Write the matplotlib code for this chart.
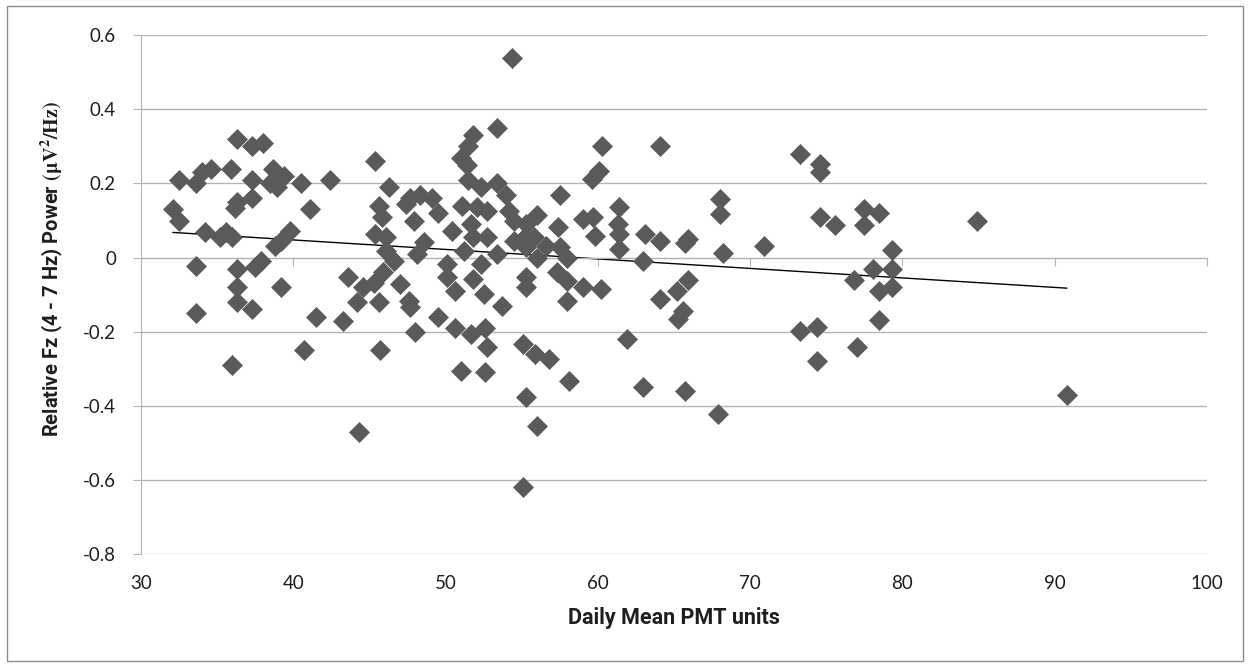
import numpy as np
import matplotlib
matplotlib.use("Agg")
import matplotlib.pyplot as plt
from matplotlib.patches import Rectangle
from matplotlib.ticker import FuncFormatter

plt.rcParams['font.family'] = ['Lato', 'DejaVu Sans']
plt.rcParams['axes.unicode_minus'] = False
plt.rcParams['mathtext.fontset'] = 'stix'

# --- data ---
pmt = [
    # 32-47
    36.3, 37.3, 38.0, 32.5, 33.6, 34.0, 34.6, 35.9, 37.3, 38.7, 39.4, 38.9, 38.5, 40.5,
    42.4, 45.4, 46.3, 32.1, 32.5, 34.2, 35.2, 35.6, 36.0, 36.3, 36.2, 37.3, 39.8, 39.2,
    38.8, 41.1, 45.6, 45.8, 45.4, 46.1, 46.1, 33.6, 36.3, 37.5, 37.9, 36.3, 39.2, 36.3,
    37.3, 33.6, 43.6, 44.6, 45.3, 47.0, 44.2, 45.6, 41.5, 43.3, 40.7, 45.7, 36.0, 44.3,
    # 46-55 upper
    53.4, 51.8, 51.5, 51.0, 51.4, 51.5, 52.3, 53.4, 54.0, 47.7, 48.3, 49.1, 47.4, 47.9,
    49.5, 51.1, 52.1, 52.7, 54.2, 54.5, 50.4, 51.7, 52.7, 51.8, 48.6, 48.1, 51.2, 54.5,
    55.2, 50.1, 52.3, 53.4, 46.6, 45.9,
    # 46-55 lower
    47.6, 47.7, 50.1, 50.6, 51.8, 52.5, 53.7, 55.3, 49.5, 48.0, 50.6, 51.7, 52.6, 52.7,
    51.0, 52.6, 55.1, 55.3,
    # 55-65 upper
    60.3, 64.1, 60.1, 59.6, 57.5, 56.0, 57.4, 59.0, 59.7, 59.8, 61.4, 61.3, 61.4, 61.4,
    63.1, 64.1, 63.0, 55.3, 55.8, 55.3, 57.5, 58.0, 56.0, 56.6,
    # 55-65 lower
    55.3, 57.3, 58.0, 59.0, 60.2, 58.0, 64.1, 65.2, 65.3, 61.9, 56.8, 58.1, 63.0, 55.9,
    56.0, 55.1, 54.35,
    # 65-91
    68.0, 68.0, 68.2, 70.9, 65.9, 65.7, 65.9, 65.6, 73.3, 74.6, 74.6, 74.6, 75.6, 77.5,
    78.5, 77.5, 79.3, 76.8, 78.1, 79.3, 78.5, 79.3, 78.5, 73.3, 74.4, 77.0, 74.4, 84.9,
    90.8, 65.7, 67.9,
]
power = [
    0.32, 0.30, 0.31, 0.21, 0.20, 0.23, 0.24, 0.24, 0.21, 0.24, 0.22, 0.19, 0.20, 0.20,
    0.21, 0.26, 0.19, 0.13, 0.10, 0.07, 0.055, 0.068, 0.055, 0.15, 0.135, 0.16, 0.073, 0.046,
    0.032, 0.13, 0.14, 0.11, 0.064, 0.055, 0.019, -0.022, -0.031, -0.026, -0.008, -0.08, -0.08, -0.12,
    -0.14, -0.15, -0.053, -0.08, -0.069, -0.071, -0.12, -0.12, -0.16, -0.17, -0.25, -0.25, -0.29, -0.47,
    0.35, 0.33, 0.30, 0.27, 0.25, 0.21, 0.19, 0.20, 0.17, 0.16, 0.17, 0.16, 0.145, 0.10,
    0.12, 0.14, 0.136, 0.127, 0.127, 0.10, 0.073, 0.091, 0.055, 0.055, 0.041, 0.01, 0.019, 0.046,
    0.055, -0.017, -0.017, 0.01, -0.008, -0.04,
    -0.116, -0.134, -0.053, -0.089, -0.058, -0.098, -0.13, -0.08, -0.16, -0.20, -0.19, -0.206, -0.19, -0.24,
    -0.305, -0.31, -0.233, -0.375,
    0.30, 0.30, 0.235, 0.213, 0.17, 0.114, 0.082, 0.105, 0.109, 0.059, 0.136, 0.091, 0.064, 0.023,
    0.064, 0.046, -0.01, 0.091, 0.055, 0.028, 0.028, 0.0, 0.0, 0.03,
    -0.053, -0.04, -0.062, -0.08, -0.085, -0.116, -0.112, -0.089, -0.166, -0.22, -0.274, -0.332, -0.35, -0.26,
    -0.454, -0.62, 0.54,
    0.159, 0.118, 0.012, 0.032, 0.05, 0.04, -0.06, -0.143, 0.28, 0.253, 0.231, 0.109, 0.089, 0.132,
    0.12, 0.089, 0.021, -0.06, -0.031, -0.031, -0.089, -0.08, -0.169, -0.199, -0.188, -0.242, -0.28, 0.10,
    -0.37, -0.361, -0.421,
]
x_ticks = [30, 40, 50, 60, 70, 80, 90, 100]
y_ticks = [-0.8, -0.6, -0.4, -0.2, 0, 0.2, 0.4, 0.6]

GRID = '#b4b4b4'
TEXT = '#1e1e1e'
LABEL_FONT = ['Roboto', 'DejaVu Sans']

fig = plt.figure(figsize=(12.5, 6.66), dpi=100)
ax = fig.add_axes([0.1128, 0.1682, 0.8526, 0.7788])

ax.set_xlim(30, 100)
ax.set_ylim(-0.8, 0.6)
ax.set_yticks(y_ticks)
ax.set_xticks(x_ticks)
ax.yaxis.grid(True, color=GRID, lw=1)
ax.set_axisbelow(True)

# linear trendline over the data range
m, b = np.polyfit(pmt, power, 1)
xl = np.array([min(pmt), max(pmt)])
ax.plot(xl, m * xl + b, color='black', lw=1, zorder=2)

ax.plot(pmt, power, linestyle='none', marker='D', ms=10.5,
        color='#5a5a5a', mec='#5a5a5a', mew=0.5, zorder=3)

# spines: x axis crosses at y = 0, labels stay at the bottom
for s in ['top', 'right']:
    ax.spines[s].set_visible(False)
ax.spines['left'].set_color(GRID)
ax.spines['bottom'].set_color(GRID)
ax.spines['bottom'].set_position(('data', 0))
ax.tick_params(axis='x', direction='out', length=6, color=GRID, labelbottom=False)
ax.tick_params(axis='y', direction='out', length=6, color=GRID, pad=12,
               labelsize=13.5, labelcolor=TEXT)
ax.yaxis.set_major_formatter(FuncFormatter(lambda v, p: '0' if abs(v) < 1e-9 else f'{v:.1f}'))

sec = ax.secondary_xaxis('bottom')
sec.set_xticks(x_ticks)
sec.spines['bottom'].set_visible(False)
sec.tick_params(length=0, pad=15, labelsize=13.5, labelcolor=TEXT)
sec.set_xlabel('Daily Mean PMT units', fontsize=15.5, fontweight='bold', color=TEXT,
               labelpad=11, family=LABEL_FONT)

ax.set_ylabel(r'Relative Fz (4 - 7 Hz) Power $\mathbf{(\mu V^2/Hz)}$',
              fontsize=14.5, fontweight='bold', color=TEXT, family=LABEL_FONT)
ax.yaxis.set_label_coords(-0.071, 0.55)

# outer chart border
fig.patches.append(Rectangle((7 / 1250, 5 / 666), 1236 / 1250, 655 / 666,
                             transform=fig.transFigure, fill=False,
                             edgecolor='#8c8c8c', lw=1))

fig.savefig('out.png', dpi=100)
